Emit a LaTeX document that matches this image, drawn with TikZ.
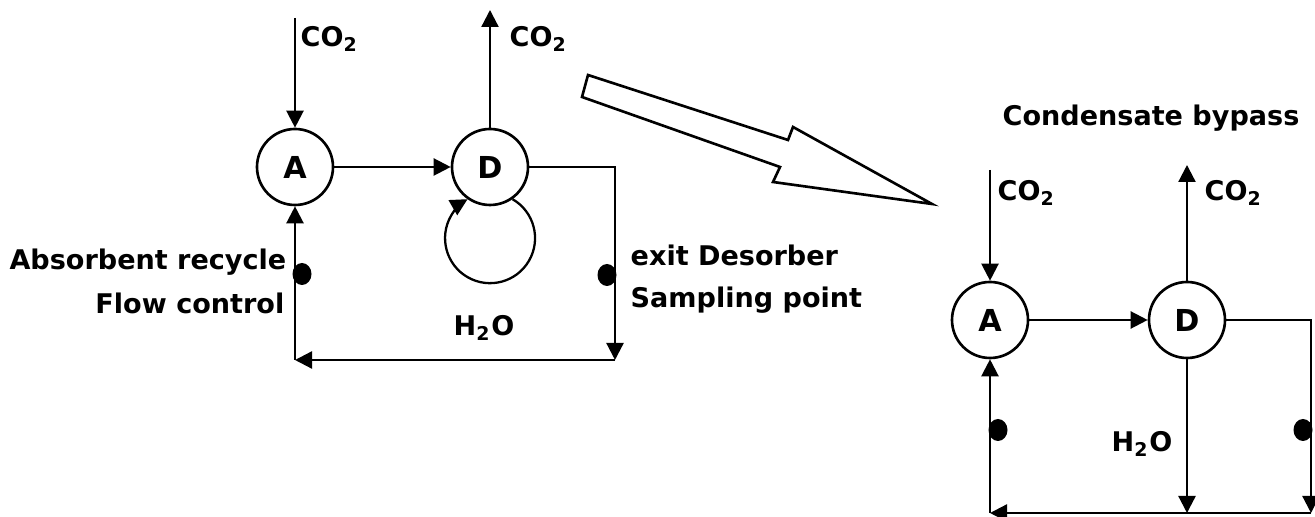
\documentclass[tikz,border=0pt]{standalone}
\usepackage{fontspec}
\setmainfont{DejaVu Sans}
\usetikzlibrary{arrows.meta,shapes.geometric}

\begin{document}
\begin{tikzpicture}[x=0.1mm,y=0.1mm,
  unit/.style={draw,circle,line width=0.75pt,minimum size=7.6mm,inner sep=0pt,
               font=\fontsize{8.6}{10}\selectfont\bfseries},
  lbl/.style={inner sep=0pt,font=\fontsize{7.7}{9}\selectfont\bfseries},
  flow/.style={line width=0.65pt,-{Triangle[length=1.7mm,width=1.7mm]}},
  dot/.style={ellipse,fill,inner sep=0pt,minimum width=1.9mm,minimum height=2.2mm}]
\useasboundingbox (0,0) rectangle (1315,-517);
% before
\node[unit] (A1) at (295,-167) {A};
\node[unit] (D1) at (490,-167) {D};
\coordinate (in1) at (295,-18);
\coordinate (out1) at (490,-10);
\coordinate (c1) at (615,-167);
\coordinate (c2) at (615,-360);
\coordinate (c3) at (295,-360);
\draw[flow] (in1) -- (A1);
\draw[flow] (D1) -- (out1);
\draw[flow] (A1) -- (D1);
\draw[flow] (D1.east) -- (c1) -- (c2);
\draw[flow] (c2) -- (c3);
\draw[flow] (c3) -- (A1);
\draw[flow] (D1.-55) arc[start angle=60,end angle=-240,radius=45];
\node[dot] (s1) at (302,-274) {};
\node[dot] (s2) at (607,-275) {};
\node[lbl,anchor=base west] (co2a) at (300,-47) {CO\textsubscript{2}};
\node[lbl,anchor=base west] (co2b) at (509,-47) {CO\textsubscript{2}};
\node[lbl,anchor=base west] (w1) at (453,-336) {H\textsubscript{2}O};
\node[lbl,anchor=base east] (rec) at (287,-270) {Absorbent recycle};
\node[lbl,anchor=base east] (fc) at (285,-314) {Flow control};
\node[lbl,anchor=base west] (ex) at (630,-266) {exit Desorber};
\node[lbl,anchor=base west] (sp) at (630,-308) {Sampling point};
% change
\draw[line width=0.75pt] (588,-75) -- (788,-140) -- (793,-127) -- (932,-204)
  -- (773,-182) -- (780,-167) -- (582,-97) -- cycle;
% after
\node[lbl,anchor=base west] (byp) at (1002,-126) {Condensate bypass};
\node[unit] (A2) at (990,-320) {A};
\node[unit] (D2) at (1187,-320) {D};
\coordinate (in2) at (990,-170);
\coordinate (out2) at (1187,-165);
\coordinate (c4) at (1311,-320);
\coordinate (c5) at (1311,-513);
\coordinate (c6) at (1187,-513);
\coordinate (c7) at (990,-513);
\draw[flow] (in2) -- (A2);
\draw[flow] (D2) -- (out2);
\draw[flow] (A2) -- (D2);
\draw[flow] (D2.east) -- (c4) -- (c5);
\draw[flow] (D2) -- (c6);
\draw[flow] (c5) -- (c7);
\draw[flow] (c7) -- (A2);
\node[dot] (s3) at (998,-430) {};
\node[dot] (s4) at (1303,-430) {};
\node[lbl,anchor=base west] (co2c) at (997,-201) {CO\textsubscript{2}};
\node[lbl,anchor=base west] (co2d) at (1204,-201) {CO\textsubscript{2}};
\node[lbl,anchor=base west] (w2) at (1111,-452) {H\textsubscript{2}O};
\end{tikzpicture}
\end{document}
